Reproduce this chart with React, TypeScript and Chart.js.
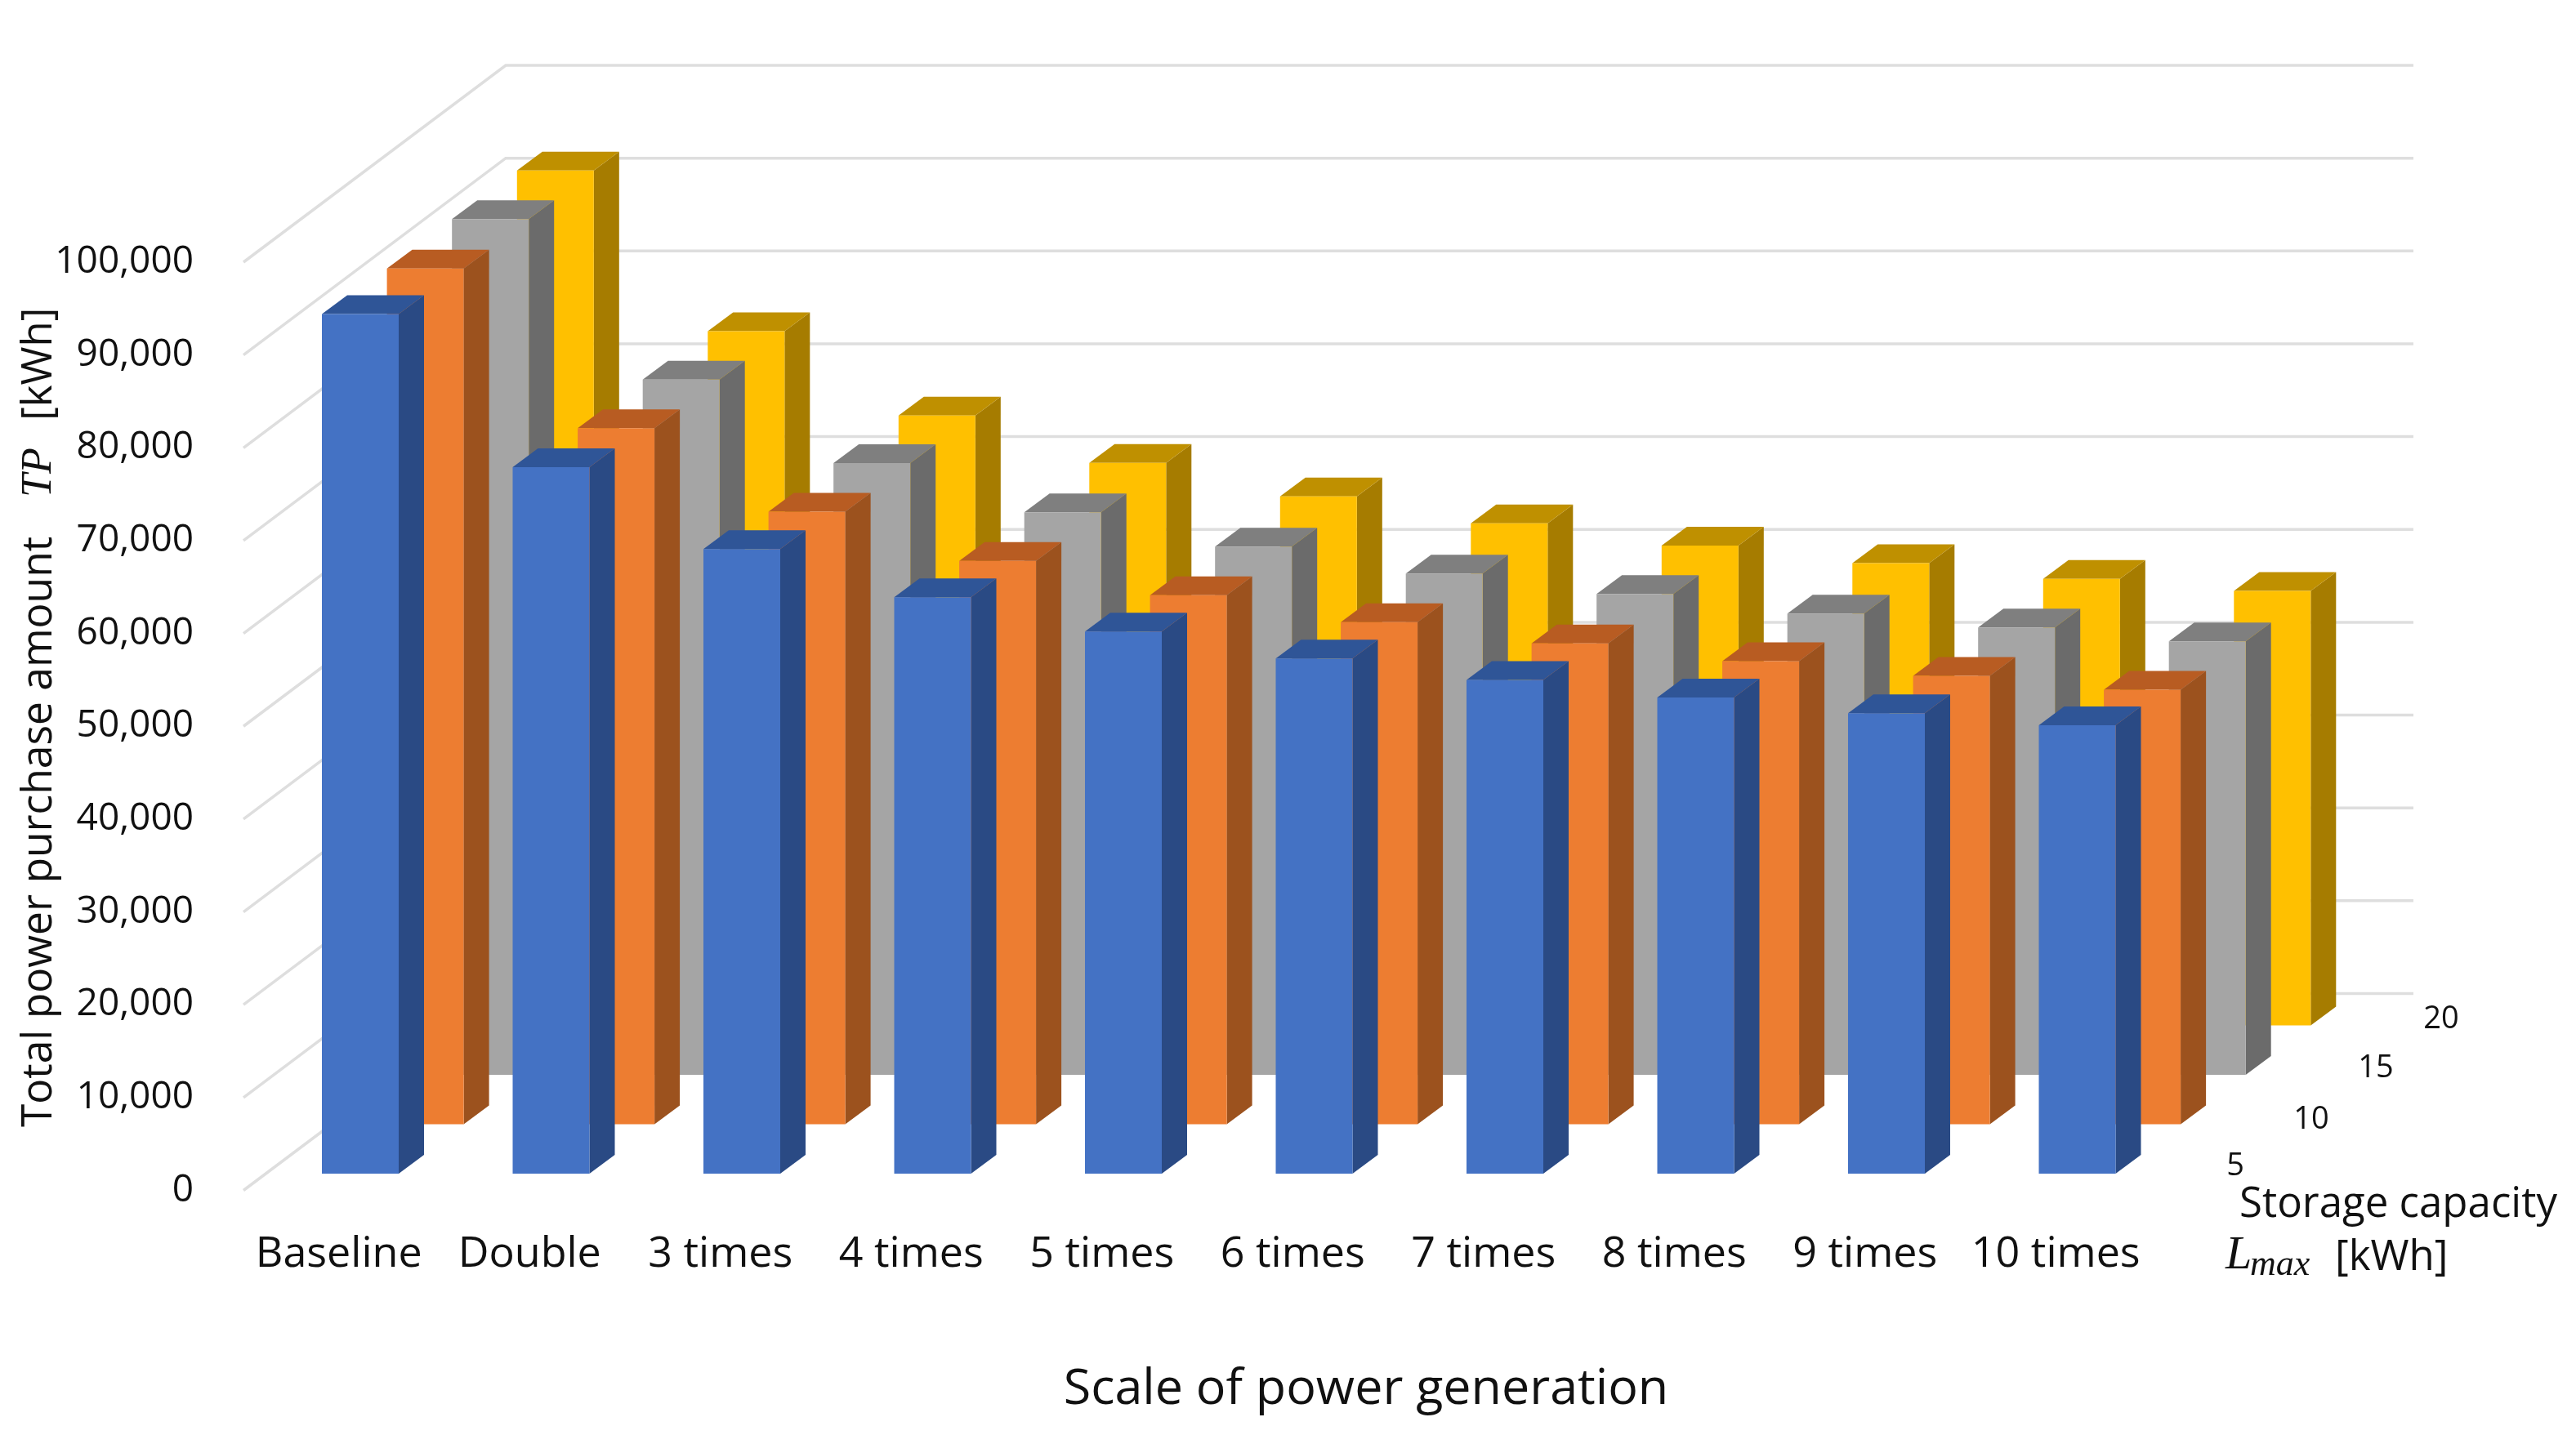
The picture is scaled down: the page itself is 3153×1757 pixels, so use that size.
import React, { useEffect, useRef } from "react";
import { Chart, registerables } from "chart.js";

Chart.register(...registerables);

const categories = ["Baseline", "Double", "3 times", "4 times", "5 times", "6 times", "7 times", "8 times", "9 times", "10 times"];
const storageLabels = ["5", "10", "15", "20"];
const storage5 = [92600, 76100, 67300, 62100, 58400, 55500, 53200, 51300, 49600, 48300];
const storage10 = [92200, 75000, 66000, 60700, 57000, 54100, 51800, 49900, 48300, 46800];
const storage15 = [92200, 74900, 65900, 60600, 56900, 54000, 51800, 49700, 48200, 46700];
const storage20 = [92100, 74800, 65700, 60600, 57000, 54100, 51700, 49800, 48100, 46800];
const yTicksMax = 100000;

const W = 3153;
const H = 1757;
const FONT = '"Open Sans", sans-serif';
const MATH = '"Liberation Serif", serif';
const INK = "#111111";
const faces = [
  { front: "#4472C4", side: "#2A4A84", top: "#2F5597" },
  { front: "#ED7D31", side: "#9C521E", top: "#B85C22" },
  { front: "#A5A5A5", side: "#6B6B6B", top: "#7F7F7F" },
  { front: "#FFC000", side: "#A67C00", top: "#BF9000" },
];
const ROW_DX = 79.6;
const ROW_DY = 60.5;
const FIRST_DX = 26.25;
const FIRST_DY = 20.5;
const BAR_DX = 31;
const BAR_DY = 23;
const WALL_DX = 321;
const WALL_DY = 241;

const threeD = {
  id: "threeD",
  beforeDatasetsDraw(chart: any) {
    const { ctx, chartArea, scales } = chart;
    ctx.save();
    ctx.strokeStyle = "#DEDEDE";
    ctx.lineWidth = 3.5;
    for (const tick of scales.y.ticks) {
      const y = scales.y.getPixelForValue(tick.value);
      ctx.beginPath();
      ctx.moveTo(chartArea.left, y);
      ctx.lineTo(chartArea.left + WALL_DX, y - WALL_DY);
      ctx.lineTo(chartArea.right + WALL_DX, y - WALL_DY);
      ctx.stroke();
    }
    ctx.restore();
  },
  beforeDatasetDraw(chart: any, args: any) {
    const { ctx } = chart;
    const i = args.index;
    const f = faces[i];
    ctx.save();
    ctx.translate(FIRST_DX + i * ROW_DX, -FIRST_DY - i * ROW_DY);
    for (const el of args.meta.data) {
      const { x, y, base, width } = el.getProps(["x", "y", "base", "width"], true);
      const l = x - width / 2;
      const r = x + width / 2;
      ctx.fillStyle = f.side;
      ctx.beginPath();
      ctx.moveTo(r, y);
      ctx.lineTo(r + BAR_DX, y - BAR_DY);
      ctx.lineTo(r + BAR_DX, base - BAR_DY);
      ctx.lineTo(r, base);
      ctx.closePath();
      ctx.fill();
      ctx.fillStyle = f.top;
      ctx.beginPath();
      ctx.moveTo(l, y);
      ctx.lineTo(l + BAR_DX, y - BAR_DY);
      ctx.lineTo(r + BAR_DX, y - BAR_DY);
      ctx.lineTo(r, y);
      ctx.closePath();
      ctx.fill();
    }
  },
  afterDatasetDraw(chart: any) {
    chart.ctx.restore();
  },
  afterDraw(chart: any) {
    const { ctx, data } = chart;
    ctx.save();
    ctx.fillStyle = INK;
    ctx.textBaseline = "middle";
    ctx.textAlign = "center";
    // depth axis labels
    const storagePos = [[2736, 1428], [2829, 1371], [2908, 1308], [2988, 1248]];
    ctx.font = `38px ${FONT}`;
    data.datasets.forEach((d: any, i: number) => {
      ctx.fillText(d.label, storagePos[i][0], storagePos[i][1]);
    });
    // x title
    ctx.font = `61px ${FONT}`;
    ctx.fillText("Scale of power generation", 1672, 1702);
    // depth title
    ctx.textAlign = "left";
    ctx.font = `51px ${FONT}`;
    ctx.fillText("Storage capacity", 2741, 1475);
    ctx.fillText("[kWh]", 2858, 1540);
    ctx.font = `italic 58px ${MATH}`;
    ctx.fillText("L", 2724, 1538);
    ctx.font = `italic 44px ${MATH}`;
    ctx.fillText("max", 2754, 1549);
    // y title
    ctx.save();
    ctx.translate(48, 0);
    ctx.rotate(-Math.PI / 2);
    ctx.font = `51.5px ${FONT}`;
    ctx.fillText("Total power purchase amount", -1380, 0);
    ctx.font = `51px ${FONT}`;
    ctx.fillText("[kWh]", -515, 0);
    ctx.font = `italic 52px ${MATH}`;
    ctx.fillText("TP", -609, 0);
    ctx.restore();
    ctx.restore();
  },
};

export default function App() {
  const ref = useRef<HTMLCanvasElement>(null);
  useEffect(() => {
    const series = [storage5, storage10, storage15, storage20];
    const chart = new Chart(ref.current as HTMLCanvasElement, {
      type: "bar",
      data: {
        labels: categories,
        datasets: series.map((values, i) => ({
          label: storageLabels[i],
          data: values,
          backgroundColor: faces[i].front,
          borderWidth: 0,
          grouped: false,
          categoryPercentage: 1,
          barPercentage: 0.4026,
          clip: false,
        })) as any,
      },
      options: {
        responsive: false,
        devicePixelRatio: 1,
        animation: false,
        layout: { padding: { left: 0, top: 321, right: 520, bottom: 0 } },
        plugins: { legend: { display: false }, tooltip: { enabled: false }, title: { display: false } },
        scales: {
          x: {
            grid: { display: false, drawTicks: false },
            border: { display: false },
            afterFit: (s: any) => { s.height = H - 1457.5; },
            ticks: { font: { family: FONT, size: 52 }, color: INK, padding: 47.5, maxRotation: 0, autoSkip: false },
          },
          y: {
            min: 0,
            max: yTicksMax,
            grid: { display: false, drawTicks: false },
            border: { display: false },
            afterFit: (s: any) => { s.width = 298; },
            ticks: {
              stepSize: 10000,
              font: { family: FONT, size: 46 },
              color: INK,
              padding: 61,
              callback: (v: any) => Number(v).toLocaleString("en-US"),
            },
          },
        },
      },
      plugins: [threeD as any],
    });
    return () => chart.destroy();
  }, []);
  return (
    <div style={{ position: "absolute", left: 0, top: 0, width: W, height: H, background: "#fff" }}>
      <canvas ref={ref} width={W} height={H} style={{ display: "block", width: W, height: H }} />
    </div>
  );
}
